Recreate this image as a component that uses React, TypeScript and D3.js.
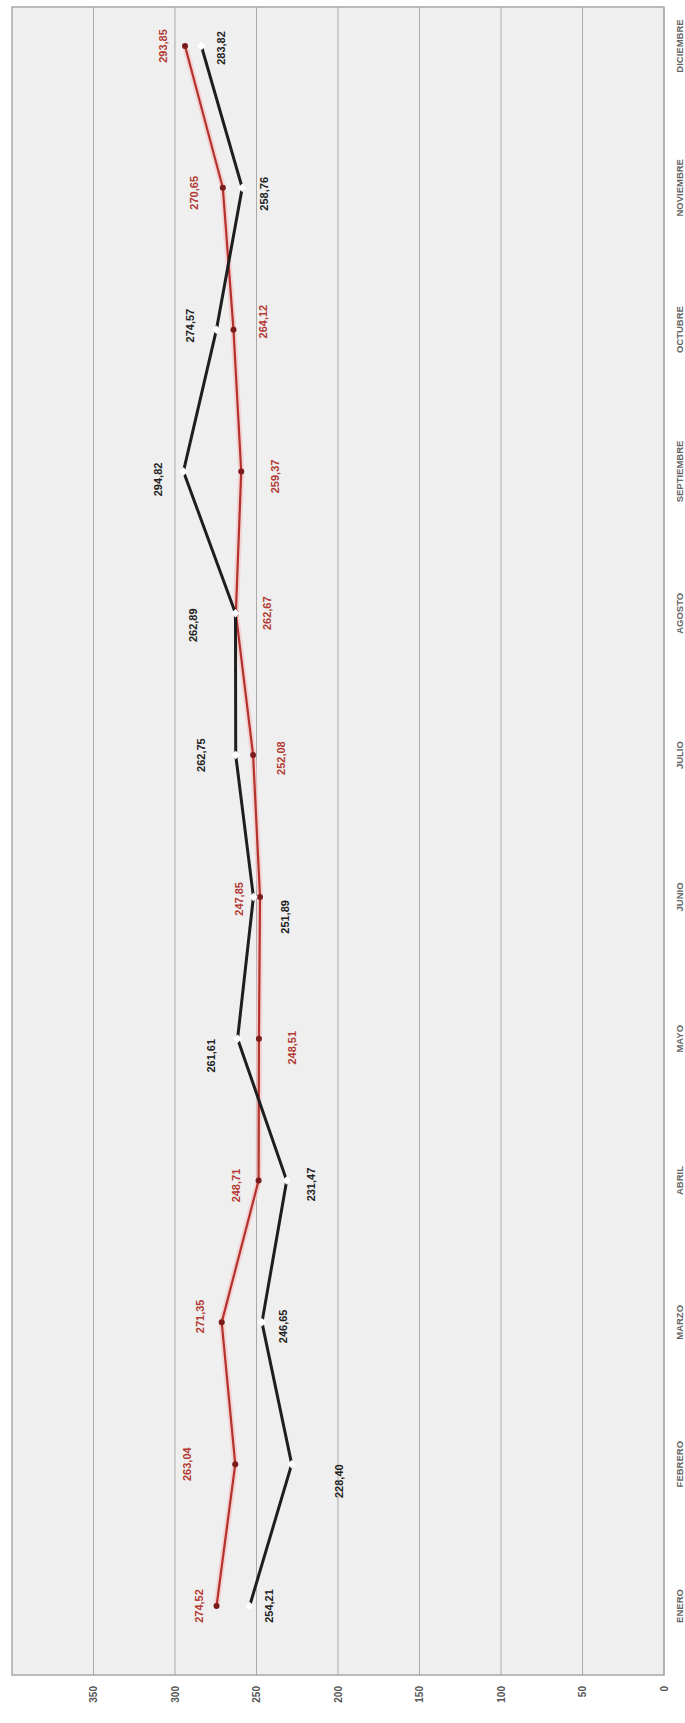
import React from "react";
import * as d3 from "d3";

const months = ["ENERO","FEBRERO","MARZO","ABRIL","MAYO","JUNIO","JULIO","AGOSTO","SEPTIEMBRE","OCTUBRE","NOVIEMBRE","DICIEMBRE"];
const blackValues = [254.21, 228.40, 246.65, 231.47, 261.61, 251.89, 262.75, 262.89, 294.82, 274.57, 258.76, 283.82];
const redValues = [274.52, 263.04, 271.35, 248.71, 248.51, 247.85, 252.08, 262.67, 259.37, 264.12, 270.65, 293.85];
const valueTicks = [0, 50, 100, 150, 200, 250, 300, 350];

// label placement offsets (layout, in px, along value axis / category axis)
const blackLabelDx = [19, 47, 21, 24, -27, 32, -35, -42, -25, -26, 22, 20];
const blackLabelDy = [0, 17, 4, 4, 17, 20, 0, 12, 8, -4, 6, 2];
const redLabelDx = [-18, -48, -22, -23, 33, -21, 28, 31, 34, 30, -29, -22];
const redLabelDy = [0, 0, -6, 5, 9, 2, 3, 0, 5, -8, 5, 0];

const W = 685, H = 1723;
const plotLeft = 12, plotRight = 664, plotTop = 7, plotBottom = 1675;

const fmt = (v: number) => d3.format(".2f")(v).replace(".", ",");

export default function App() {
  const x = d3.scaleLinear().domain([0, 400]).range([plotRight, plotLeft]);
  const y = d3.scalePoint<string>().domain(months).range([1606, 46]);

  const line = d3.line<number>()
    .x((d) => x(d))
    .y((_, i) => y(months[i]) as number);

  const blackPath = line(blackValues) || "";
  const redPath = line(redValues) || "";

  return (
    <svg width={W} height={H} style={{ position: "absolute", left: 0, top: 0, background: "#fff" }} fontFamily="Arial, 'Liberation Sans', sans-serif">
      <rect x={plotLeft} y={plotTop} width={plotRight - plotLeft} height={plotBottom - plotTop} fill="#efefef" stroke="#a8a8a8" strokeWidth={1.5} />
      {valueTicks.map((t) => (
        <line key={"g" + t} x1={x(t)} x2={x(t)} y1={plotTop} y2={plotBottom} stroke="#a9a9a9" strokeWidth={1} />
      ))}
      {valueTicks.map((t) => (
        <text key={"t" + t} transform={`translate(${x(t)},${plotBottom + 11}) rotate(-90)`} textAnchor="end" dominantBaseline="central" fontSize={10} fontWeight="bold" fill="#555">
          {t}
        </text>
      ))}
      {months.map((m) => (
        <text key={m} transform={`translate(${plotRight + 15},${y(m)}) rotate(-90)`} textAnchor="middle" dominantBaseline="central" fontSize={9.5} fontWeight="bold" fill="#666">
          {m}
        </text>
      ))}
      {/* red series */}
      <path d={redPath} fill="none" stroke="#f4c6c6" strokeWidth={6} opacity={0.7} />
      <path d={redPath} fill="none" stroke="#b5312c" strokeWidth={2.2} />
      {redValues.map((v, i) => (
        <circle key={"rc" + i} cx={x(v)} cy={y(months[i])} r={3} fill="#7a1c1c" />
      ))}
      {/* black series */}
      <path d={blackPath} fill="none" stroke="#1e1e1e" strokeWidth={3} />
      {blackValues.map((v, i) => (
        <rect key={"bc" + i} x={x(v) - 3} y={(y(months[i]) as number) - 3} width={6} height={6} fill="#fff" transform={`rotate(45,${x(v)},${y(months[i])})`} />
      ))}
      {blackValues.map((v, i) => (
        <text key={"bl" + i} transform={`translate(${x(v) + blackLabelDx[i]},${(y(months[i]) as number) + blackLabelDy[i]}) rotate(-90)`} textAnchor="middle" dominantBaseline="central" fontSize={11} fontWeight="bold" fill="#222">
          {fmt(v)}
        </text>
      ))}
      {redValues.map((v, i) => (
        <text key={"rl" + i} transform={`translate(${x(v) + redLabelDx[i]},${(y(months[i]) as number) + redLabelDy[i]}) rotate(-90)`} textAnchor="middle" dominantBaseline="central" fontSize={11} fontWeight="bold" fill="#b33a33">
          {fmt(v)}
        </text>
      ))}
    </svg>
  );
}
